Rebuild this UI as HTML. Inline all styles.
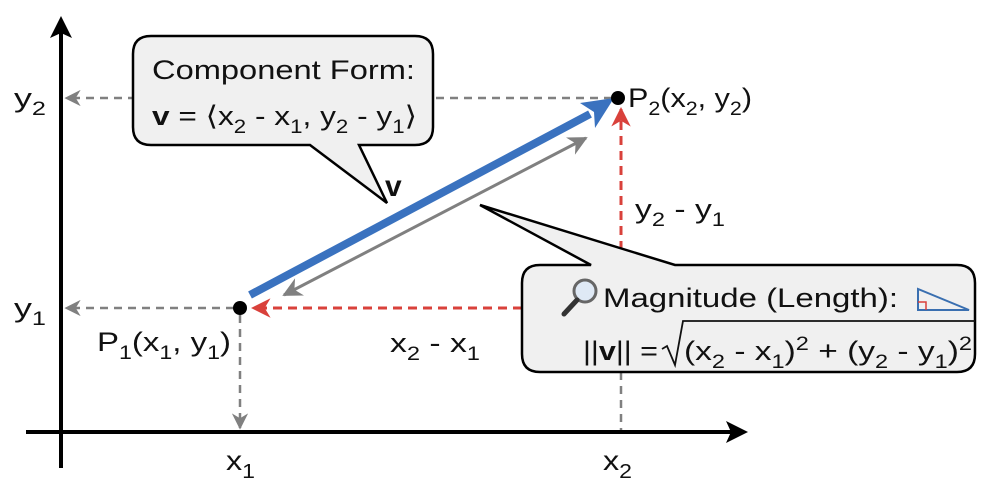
<!DOCTYPE html>
<html><head><meta charset="utf-8"><style>
html,body{margin:0;padding:0;background:#fff;}
svg{display:block;}
text{font-family:"Liberation Sans","DejaVu Sans",sans-serif;fill:#111;}
</style></head><body>
<svg width="1000" height="482" viewBox="0 0 1000 482" xmlns="http://www.w3.org/2000/svg">
<defs>
<marker id="ag" viewBox="0 0 10 10" refX="9" refY="5" markerWidth="6.5" markerHeight="6.5" orient="auto-start-reverse"><path d="M0,0 L10,5 L0,10 L3,5 z" fill="#808080"/></marker>
<marker id="ar" viewBox="0 0 10 10" refX="9" refY="5" markerWidth="6.5" markerHeight="6.5" orient="auto-start-reverse"><path d="M0,0 L10,5 L0,10 L3,5 z" fill="#d9413b"/></marker>
</defs>
<line x1="61" y1="468" x2="61" y2="30" stroke="#000" stroke-width="4"/>
<path d="M61,16 L50,38 L61,33 L72,38 z" fill="#000"/>
<line x1="26" y1="432" x2="735" y2="432" stroke="#000" stroke-width="4"/>
<path d="M748,432 L726,421 L731,432 L726,443 z" fill="#000"/>
<g stroke="#808080" stroke-width="2.5" stroke-dasharray="8,6" fill="none">
<line x1="612" y1="98" x2="66" y2="98" marker-end="url(#ag)"/>
<line x1="234" y1="308" x2="66" y2="308" marker-end="url(#ag)"/>
<line x1="240" y1="315" x2="240" y2="428" marker-end="url(#ag)"/>
<line x1="621" y1="372" x2="621" y2="430"/>
</g>
<g stroke="#d9413b" stroke-width="3" stroke-dasharray="9,6" fill="none">
<line x1="522" y1="308" x2="253" y2="308" marker-end="url(#ar)"/>
<line x1="621" y1="265" x2="621" y2="109" marker-end="url(#ar)"/>
</g>
<line x1="284" y1="295" x2="586" y2="138" stroke="#808080" stroke-width="3" marker-start="url(#ag)" marker-end="url(#ag)"/>
<line x1="250" y1="295" x2="590" y2="114" stroke="#3a72bf" stroke-width="8"/>
<path d="M614,98 L580,103 L594,112 L595,128 z" fill="#3a72bf"/>
<circle cx="240" cy="308" r="7" fill="#000"/>
<circle cx="618" cy="98" r="7" fill="#000"/>
<path d="M151,36 H415 Q433,36 433,54 V127 Q433,145 415,145 H359 L387,203 L310,145 H151 Q133,145 133,127 V54 Q133,36 151,36 z" fill="#f0f0f0" stroke="#000" stroke-width="2.5"/>
<text x="152" y="79" font-size="27" textLength="263" lengthAdjust="spacingAndGlyphs">Component Form:</text>
<text x="152" y="125" font-size="27" textLength="265" lengthAdjust="spacingAndGlyphs"><tspan font-weight="bold">v</tspan> = ⟨x<tspan font-size="19" dy="8">2</tspan><tspan dy="-8"> - x</tspan><tspan font-size="19" dy="8">1</tspan><tspan dy="-8">, y</tspan><tspan font-size="19" dy="8">2</tspan><tspan dy="-8"> - y</tspan><tspan font-size="19" dy="8">1</tspan><tspan dy="-8">⟩</tspan></text>
<path d="M540,265 H591 L480,205 L675,265 H957 Q975,265 975,283 V354 Q975,372 957,372 H540 Q522,372 522,354 V283 Q522,265 540,265 z" fill="#f0f0f0" stroke="#000" stroke-width="2.5"/>
<circle cx="585" cy="291" r="11" fill="#dfe9f5" stroke="#666" stroke-width="3"/>
<line x1="577" y1="300" x2="564" y2="314" stroke="#333" stroke-width="5" stroke-linecap="round"/>
<text x="603" y="307" font-size="27" textLength="295" lengthAdjust="spacingAndGlyphs">Magnitude (Length):</text>
<path d="M918,289 V310 H969 z" fill="none" stroke="#3a6fb0" stroke-width="2"/>
<path d="M918,302 H926 V310" fill="none" stroke="#d9413b" stroke-width="1.5"/>
<text x="583" y="360" font-size="27" textLength="75" lengthAdjust="spacingAndGlyphs">||<tspan font-weight="bold">v</tspan>|| =</text>
<path d="M662,349 L667,346 L675,365 L683,321 H975" fill="none" stroke="#111" stroke-width="1.8"/>
<text x="684" y="360" font-size="27" textLength="288" lengthAdjust="spacingAndGlyphs">(x<tspan font-size="19" dy="8">2</tspan><tspan dy="-8"> - x</tspan><tspan font-size="19" dy="8">1</tspan><tspan dy="-8">)</tspan><tspan font-size="19" dy="-10">2</tspan><tspan dy="10"> + (y</tspan><tspan font-size="19" dy="8">2</tspan><tspan dy="-8"> - y</tspan><tspan font-size="19" dy="8">1</tspan><tspan dy="-8">)</tspan><tspan font-size="19" dy="-10">2</tspan></text>
<text x="385" y="196" font-size="30" font-weight="bold">v</text>
<text x="14" y="107" font-size="27" textLength="32" lengthAdjust="spacingAndGlyphs">y<tspan font-size="19" dy="8">2</tspan></text>
<text x="14" y="317" font-size="27" textLength="32" lengthAdjust="spacingAndGlyphs">y<tspan font-size="19" dy="8">1</tspan></text>
<text x="97" y="351" font-size="27" textLength="134" lengthAdjust="spacingAndGlyphs">P<tspan font-size="19" dy="8">1</tspan><tspan dy="-8">(x</tspan><tspan font-size="19" dy="8">1</tspan><tspan dy="-8">, y</tspan><tspan font-size="19" dy="8">1</tspan><tspan dy="-8">)</tspan></text>
<text x="628" y="107" font-size="27" textLength="124" lengthAdjust="spacingAndGlyphs">P<tspan font-size="19" dy="8">2</tspan><tspan dy="-8">(x</tspan><tspan font-size="19" dy="8">2</tspan><tspan dy="-8">, y</tspan><tspan font-size="19" dy="8">2</tspan><tspan dy="-8">)</tspan></text>
<text x="390" y="352" font-size="27" textLength="90" lengthAdjust="spacingAndGlyphs">x<tspan font-size="19" dy="8">2</tspan><tspan dy="-8"> - x</tspan><tspan font-size="19" dy="8">1</tspan></text>
<text x="635" y="218" font-size="27" textLength="90" lengthAdjust="spacingAndGlyphs">y<tspan font-size="19" dy="8">2</tspan><tspan dy="-8"> - y</tspan><tspan font-size="19" dy="8">1</tspan></text>
<text x="226" y="470" font-size="28" textLength="29" lengthAdjust="spacingAndGlyphs">x<tspan font-size="20" dy="8">1</tspan></text>
<text x="603" y="470" font-size="28" textLength="29" lengthAdjust="spacingAndGlyphs">x<tspan font-size="20" dy="8">2</tspan></text>
</svg>
</body></html>
